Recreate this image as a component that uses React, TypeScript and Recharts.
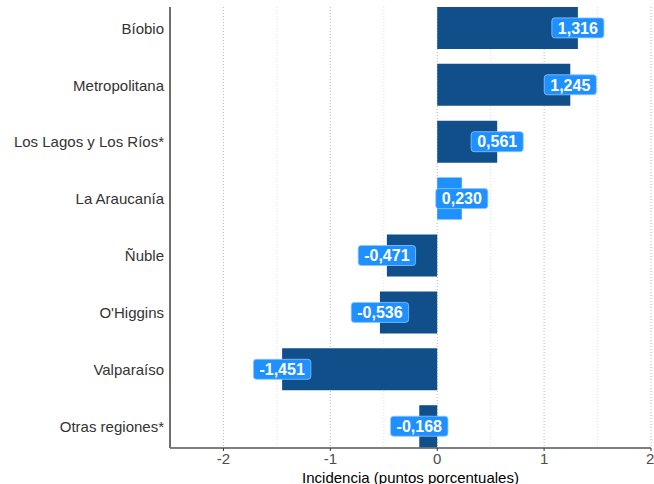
import { BarChart, Bar, XAxis, YAxis, CartesianGrid, Cell, LabelList } from 'recharts';

const regions = [
  'Bíobio',
  'Metropolitana',
  'Los Lagos y Los Ríos*',
  'La Araucanía',
  'Ñuble',
  "O'Higgins",
  'Valparaíso',
  'Otras regiones*',
];
const incidence = [1.316, 1.245, 0.561, 0.23, -0.471, -0.536, -1.451, -0.168];
const highlighted = ['La Araucanía'];
const xTicks = [-2, -1, 0, 1, 2];
const xMinor = [-1.5, -0.5, 0.5, 1.5];

const DARK = '#114f8b';
const LIGHT = '#1e90ff';
const FONT = '"Liberation Sans", Arial, sans-serif';

const data = regions.map((name, i) => ({ idx: i, name, value: incidence[i] }));

const fmt = (v: number) => v.toFixed(3).replace('.', ',');

// rough bold glyph widths at 16px
const charW = (c: string) => (c === ',' ? 4.5 : c === '-' ? 5.3 : 8.9);

function ValueTag(props: any) {
  const { x, y, width, height, value } = props;
  const a = Number(x);
  const b = Number(x) + Number(width);
  const end = value >= 0 ? Math.max(a, b) : Math.min(a, b);
  const cy = Number(y) + Number(height) / 2;
  const txt = fmt(Number(value));
  const tw = txt.split('').reduce((s, c) => s + charW(c), 0);
  const w = tw + 12;
  const h = 20;
  return (
    <g>
      <rect x={end - w / 2} y={cy - h / 2} width={w} height={h} rx={3} fill={LIGHT} stroke='#8ec5ff' strokeWidth={0.8} />
      <text x={end} y={cy} dy='0.36em' textAnchor='middle' fill='#fff' fontWeight='bold' fontSize={16} fontFamily={FONT}>
        {txt}
      </text>
    </g>
  );
}

export default function App() {
  return (
    <div style={{ position: 'absolute', left: 0, top: 0, width: 654, height: 484, background: '#fff' }}>
      <BarChart
        width={654}
        height={484}
        data={data}
        layout='vertical'
        margin={{ top: 7, right: 3, left: 0, bottom: 0 }}
      >
        <CartesianGrid horizontal={false} verticalValues={xMinor} stroke='#dedede' strokeDasharray='1 2' />
        <CartesianGrid horizontal={false} verticalValues={xTicks} stroke='#b8b8b8' strokeDasharray='1 2' />
        <XAxis
          type='number'
          dataKey='value'
          domain={[-2.5, 2]}
          ticks={xTicks}
          allowDataOverflow
          height={36}
          axisLine={{ stroke: '#000', strokeWidth: 1.2 }}
          tickLine={{ stroke: '#333' }}
          tickSize={3}
          tick={{ fill: '#4d4d4d', fontSize: 15, fontFamily: FONT }}
          label={{ value: 'Incidencia (puntos porcentuales)', position: 'insideBottom', offset: 1, fill: '#000', fontSize: 15, fontFamily: FONT }}
        />
        <YAxis
          type='number'
          dataKey='idx'
          domain={[-0.375, 7.375]}
          ticks={regions.map((_r, i) => i)}
          tickFormatter={(i: number) => regions[i] ?? ''}
          allowDataOverflow
          width={170}
          axisLine={{ stroke: '#6e6e6e', strokeWidth: 2 }}
          tickLine={false}
          tickMargin={0}
          tick={{ fill: '#333', fontSize: 15, fontFamily: FONT }}
        />
        <Bar dataKey='value' barSize={42} isAnimationActive={false}>
          {data.map((d) => (
            <Cell key={d.name} fill={highlighted.includes(d.name) ? LIGHT : DARK} />
          ))}
          <LabelList dataKey='value' content={ValueTag} />
        </Bar>
      </BarChart>
    </div>
  );
}
